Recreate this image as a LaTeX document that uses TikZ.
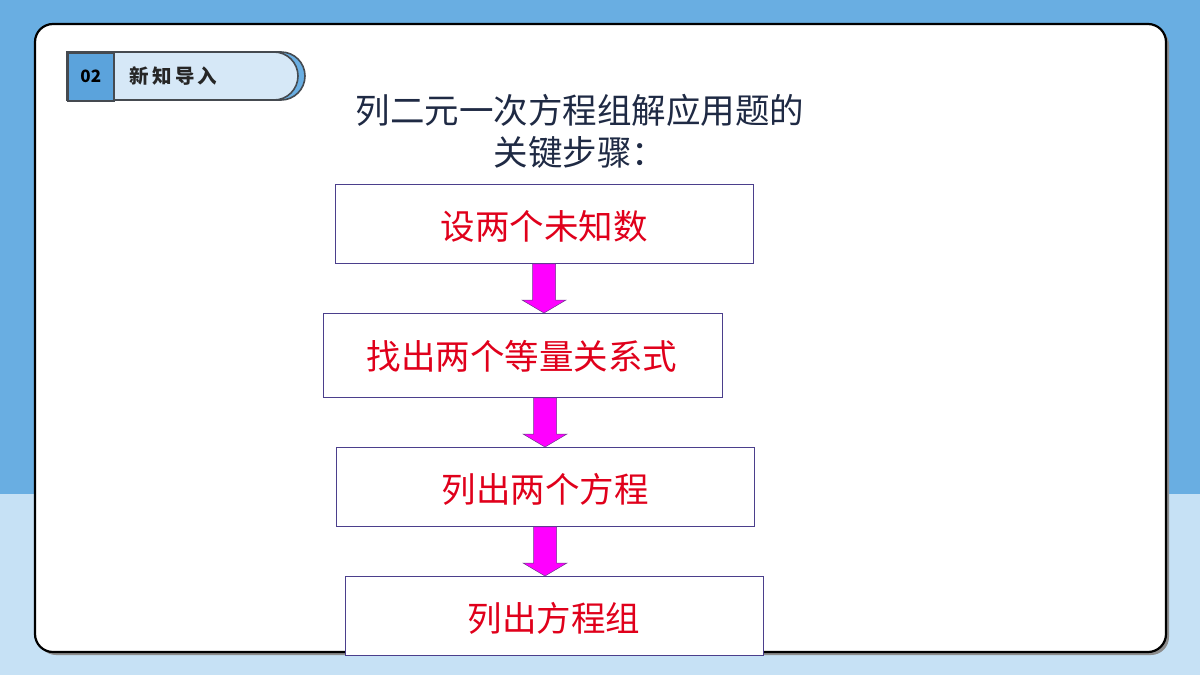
\documentclass[tikz,border=0pt]{standalone}
\usepackage{fontspec}
\setmainfont{Noto Sans CJK SC}
\newfontfamily\cjk{Noto Sans CJK SC}
\definecolor{bgtop}{HTML}{69AEE2}
\definecolor{bgbot}{HTML}{C6E1F5}
\definecolor{tabdark}{HTML}{5BA3DC}
\definecolor{tablight}{HTML}{D6E8F7}
\definecolor{tabline}{HTML}{454A50}
\definecolor{boxline}{HTML}{4B3F8C}
\definecolor{titlec}{HTML}{1F2A44}
\definecolor{redtxt}{HTML}{E0001B}
\definecolor{arrowc}{HTML}{FF00FF}
\definecolor{arrowline}{HTML}{6A3A8A}
\begin{document}
\begin{tikzpicture}[x=1pt,y=-1pt,
  stepbox/.style={draw=boxline,line width=0.9pt,fill=white,inner sep=0pt},
  steptxt/.style={font=\cjk\fontsize{34.5}{40}\selectfont,text=redtxt},
  downarrow/.style={fill=arrowc,draw=arrowline,line width=0.5pt}]
\useasboundingbox (0,0) rectangle (1200,675);
% background
\fill[bgtop] (0,0) rectangle (1200,494);
\fill[bgbot] (0,494) rectangle (1200,675);
% card shadow and card
\fill[black!45,rounded corners=18pt] (38,27) rectangle (1169,655);
\draw[fill=white,line width=2.2pt,rounded corners=18pt] (35,24) rectangle (1166,652);
% header tab
\draw[fill=bgtop,draw=tabline,line width=1.6pt] (67,52) -- (281,52) arc[start angle=90,end angle=-90,radius=24pt] -- (67,100) -- cycle;
\draw[fill=tablight,draw=tabline,line width=1.6pt] (67,52) -- (274,52) arc[start angle=90,end angle=-90,radius=24pt] -- (67,100) -- cycle;
\node[draw=tabline,line width=1.6pt,fill=tabdark,minimum width=46pt,minimum height=48pt,anchor=north west,inner sep=0pt,font=\cjk\bfseries\fontsize{17}{20}\selectfont] (num) at (67,52) {02};
\node[anchor=west,font=\cjk\bfseries\fontsize{19.5}{22}\selectfont,text=black!85] (head) at (126,76) {新\,知\,导\,入};
% title
\node[align=center,text=titlec,font=\cjk\fontsize{34.5}{42}\selectfont] (title) at (580,131) {列二元一次方程组解应用题的\\关键步骤：};
% boxes
\node[stepbox,minimum width=418pt,minimum height=79pt,anchor=north west] (b1) at (335,184) {};
\node[steptxt] at (544,226) {设两个未知数};
\node[stepbox,minimum width=399pt,minimum height=84pt,anchor=north west] (b2) at (323,313) {};
\node[steptxt] at (522,356) {找出两个等量关系式};
\node[stepbox,minimum width=418pt,minimum height=79pt,anchor=north west] (b3) at (336,447) {};
\node[steptxt] at (545,489) {列出两个方程};
\node[stepbox,minimum width=418pt,minimum height=79pt,anchor=north west] (b4) at (345,576) {};
\node[steptxt] at (554,618) {列出方程组};
% arrows
\foreach \src/\dst/\cx in {b1/b2/544, b2/b3/545, b3/b4/545}{
  \path (\src.south) coordinate (s) (\dst.north) coordinate (t);
  \draw[downarrow] (\cx-11.5,0 |- s) -- (\cx+11.5,0 |- s) -- ([yshift=13pt]\cx+11.5,0 |- t) -- ([yshift=13pt]\cx+22,0 |- t) -- (\cx,0 |- t) -- ([yshift=13pt]\cx-22,0 |- t) -- ([yshift=13pt]\cx-11.5,0 |- t) -- cycle;
}
\end{tikzpicture}
\end{document}
